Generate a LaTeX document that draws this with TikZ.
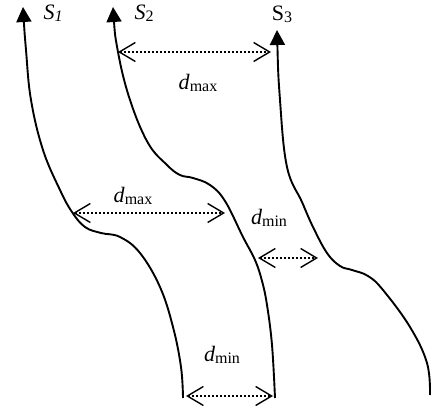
\documentclass[tikz,border=0pt]{standalone}
\usepackage{fontspec}
\setmainfont{Liberation Serif}
\usetikzlibrary{arrows.meta}
\newcommand{\biglab}[2]{\fontsize{22}{22}\selectfont #1\raisebox{-2pt}{\fontsize{16}{16}\selectfont #2}}
\begin{document}
\begin{tikzpicture}[x=1pt,y=-1pt,
  curve/.style={line width=1.9pt, {Triangle[length=15pt,width=15pt]}-},
  dim/.style={line width=1.4pt, dash pattern=on 2.2pt off 1.8pt, {Straight Barb[length=16pt,width=19pt]}-{Straight Barb[length=16pt,width=19pt]}},
  lab/.style={inner sep=0pt, anchor=base}]
\useasboundingbox (0,0) rectangle (431,411);
% curves
\draw[curve] plot[smooth, tension=0.65] coordinates {(23,7) (26,50) (31,100) (43,150) (60,190) (72,212) (85,227) (101,233) (120,237) (140,253) (160,287) (173,327) (181,367) (183,398)};
\draw[curve] plot[smooth, tension=0.65] coordinates {(113,7) (118,52) (130,100) (148,143) (167,165) (180,175) (193,178) (210,185) (225,201) (243,237) (255,260) (262,281) (267,305) (272,345) (275,398)};
\draw[curve] plot[smooth, tension=0.65] coordinates {(277,30) (280,100) (287,167) (302,202) (313,227) (327,253) (340,266) (352,270) (368,276) (383,290) (410,327) (427,363) (430,395)};
% dimension end points
\coordinate (t1) at (118,52);  \coordinate (t2) at (271,52);
\coordinate (m1) at (73,213);  \coordinate (m2) at (225,213);
\coordinate (n1) at (258,258); \coordinate (n2) at (318,258);
\coordinate (b1) at (186,396); \coordinate (b2) at (273,396);
\draw[dim] (t1) -- (t2);
\draw[dim] (m1) -- (m2);
\draw[dim] (n1) -- (n2);
\draw[dim] (b1) -- (b2);
% labels
\node[lab] (s1) at (53,19.5) {\biglab{\textit{S}}{\textit{1}}};
\node[lab] (s2) at (144,19.5) {\biglab{\textit{S}}{2}};
\node[lab] (s3) at (282,20.5) {\biglab{S}{3}};
\node[lab] (dmax1) at (198,89.5) {\biglab{\textit{d}}{max}};
\node[lab] (dmax2) at (133,203) {\biglab{\textit{d}}{max}};
\node[lab] (dmin1) at (269,225) {\biglab{\textit{d}}{min}};
\node[lab] (dmin2) at (222,362) {\biglab{\textit{d}}{min}};
\end{tikzpicture}
\end{document}
